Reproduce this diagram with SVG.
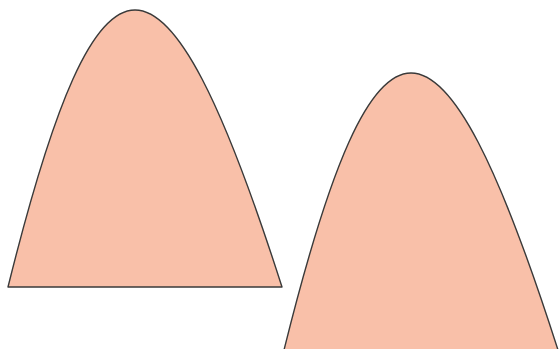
<svg xmlns="http://www.w3.org/2000/svg" width="559" height="349" viewBox="0 0 559 349">
<style>
.arch{fill:#F9C0A9;stroke:#3a3a3a;stroke-width:1.4;stroke-linejoin:round}
</style>
<defs>
<path id="archShape" d="M8,287 C99.7,-82.3 163.7,-82.3 282,287 Z"/>
</defs>
<rect width="559" height="349" fill="#ffffff"/>
<g id="shape1"><use href="#archShape" class="arch"/></g>
<g id="shape2"><use href="#archShape" class="arch" transform="translate(276,63)"/></g>
</svg>
